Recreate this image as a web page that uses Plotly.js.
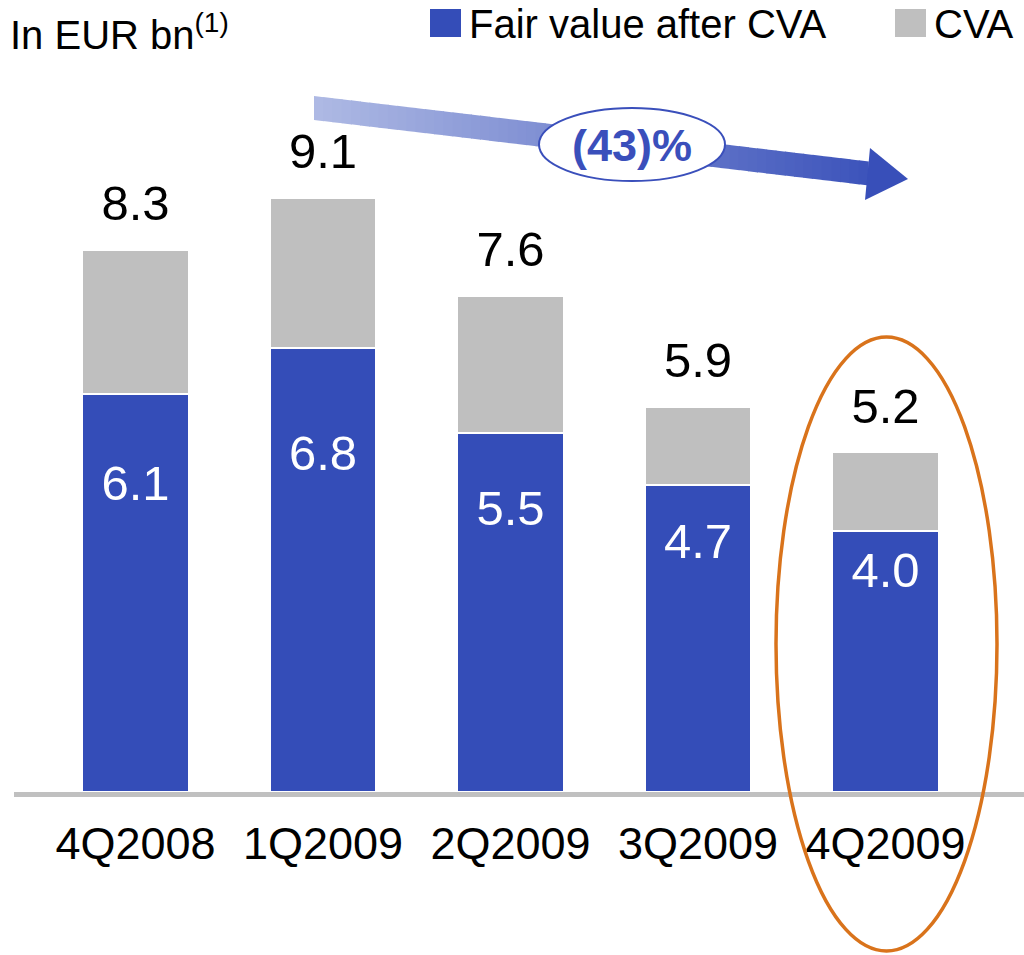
<!DOCTYPE html>
<html>
<head>
<meta charset="utf-8">
<script src="https://cdn.plot.ly/plotly-3.0.1.min.js"></script>
<style>html,body{margin:0;padding:0;background:#fff;}#chart{width:1024px;height:955px;}</style>
</head>
<body>
<div id="chart"></div>
<script>
// ---- data ----
const categories = ['4Q2008', '1Q2009', '2Q2009', '3Q2009', '4Q2009'];
const fairValueAfterCVA = [6.1, 6.8, 5.5, 4.7, 4.0];
const cvaValues = [2.2, 2.3, 2.1, 1.2, 1.2];
const totalValues = [8.3, 9.1, 7.6, 5.9, 5.2];
const changeLabel = '(43)%';
const unitLabel = 'In EUR bn<sup>(1)</sup>';
const seriesNames = ['Fair value after CVA', 'CVA'];

// ---- styling / layout helpers ----
const W = 1024, H = 955;
const M = {l: 14, r: 0, t: 139, b: 163};
const PW = W - M.l - M.r, PH = H - M.t - M.b;
const px = p => (p - M.l) / PW;          // pixel x -> paper x
const py = p => (H - M.b - p) / PH;      // pixel y -> paper y
const BLUE = '#344DB8', GREY = '#BFBFBF';
const FONT = 'Liberation Sans, Arial, sans-serif';

const traces = [
  {type: 'bar', x: categories, y: fairValueAfterCVA, name: seriesNames[0], width: 0.57,
   marker: {color: BLUE, line: {color: '#ffffff', width: 2}}, hoverinfo: 'none'},
  {type: 'bar', x: categories, y: cvaValues, name: seriesNames[1], width: 0.57,
   marker: {color: GREY, line: {color: '#ffffff', width: 2}}, hoverinfo: 'none'},
  {type: 'scatter', mode: 'text', x: categories, y: totalValues.map(v => v + 0.64),
   text: totalValues.map(v => v.toFixed(1)), textposition: 'middle center',
   textfont: {family: FONT, size: 49, color: '#000'}, hoverinfo: 'none', cliponaxis: false},
  {type: 'scatter', mode: 'text', x: categories, y: fairValueAfterCVA.map(v => 0.64 * v + 0.76),
   text: fairValueAfterCVA.map(v => v.toFixed(1)), textposition: 'middle center',
   textfont: {family: FONT, size: 49, color: '#fff'}, hoverinfo: 'none', cliponaxis: false}
];

// ---- arrow with gradient (sliced) ----
const shapes = [];
const ax0 = 314, axEnd = 868, tipX = 908;
const topY = x => 96 + 0.118 * (x - ax0);
const botY = x => 120 + 0.118 * (x - ax0);
const c0 = [175, 186, 228], c1 = [52, 76, 184];
const N = 60, step = (axEnd - ax0) / N;
const mix = t => 'rgb(' + c0.map((c, k) => Math.round(c + (c1[k] - c) * t)).join(',') + ')';
for (let i = 0; i < N; i++) {
  const xa = ax0 + i * step, xb = Math.min(xa + step + 0.8, axEnd + 2);
  const t = ((xa + xb) / 2 - ax0) / (tipX - ax0);
  shapes.push({type: 'path', xref: 'paper', yref: 'paper', layer: 'above',
    path: `M${px(xa)},${py(topY(xa))} L${px(xb)},${py(topY(xb))} L${px(xb)},${py(botY(xb))} L${px(xa)},${py(botY(xa))} Z`,
    fillcolor: mix(t), line: {width: 0}});
}
shapes.push({type: 'path', xref: 'paper', yref: 'paper', layer: 'above',
  path: `M${px(870)},${py(148)} L${px(tipX)},${py(179)} L${px(865)},${py(200)} Z`,
  fillcolor: mix(0.97), line: {width: 0}});
// ellipse around change label
shapes.push({type: 'circle', xref: 'paper', yref: 'paper', layer: 'above',
  x0: px(539), x1: px(725), y0: py(181), y1: py(108),
  fillcolor: '#ffffff', line: {color: '#3A4FBB', width: 2}});
// orange highlight ellipse
shapes.push({type: 'circle', xref: 'paper', yref: 'paper', layer: 'above',
  x0: px(776), x1: px(997), y0: py(951), y1: py(337),
  fillcolor: 'rgba(0,0,0,0)', line: {color: '#D9731B', width: 3.5}});
// legend swatches
shapes.push({type: 'rect', xref: 'paper', yref: 'paper', x0: px(430), x1: px(461), y0: py(37), y1: py(9),
  fillcolor: BLUE, line: {width: 0}});
shapes.push({type: 'rect', xref: 'paper', yref: 'paper', x0: px(895), x1: px(926), y0: py(37), y1: py(9),
  fillcolor: GREY, line: {width: 0}});

const annotations = [
  {xref: 'paper', yref: 'paper', x: px(8), y: py(32), xanchor: 'left', yanchor: 'middle', showarrow: false,
   text: unitLabel, font: {family: FONT, size: 40, color: '#000'}},
  {xref: 'paper', yref: 'paper', x: px(467), y: py(24), xanchor: 'left', yanchor: 'middle', showarrow: false,
   text: seriesNames[0], font: {family: FONT, size: 40, color: '#000'}},
  {xref: 'paper', yref: 'paper', x: px(932), y: py(24), xanchor: 'left', yanchor: 'middle', showarrow: false,
   text: seriesNames[1], font: {family: FONT, size: 40, color: '#000'}},
  {xref: 'paper', yref: 'paper', x: px(632), y: py(145), xanchor: 'center', yanchor: 'middle', showarrow: false,
   text: '<b>' + changeLabel + '</b>', font: {family: FONT, size: 45, color: '#3A4FBB'}}
];

const layout = {
  width: W, height: H,
  margin: M,
  paper_bgcolor: '#ffffff', plot_bgcolor: '#ffffff',
  barmode: 'stack',
  showlegend: false,
  xaxis: {type: 'category', range: [-0.648, 4.739], showline: true, linecolor: '#C0C0C0', linewidth: 5,
          ticks: '', ticklabelstandoff: 8, showgrid: false, zeroline: false, fixedrange: true,
          tickfont: {family: FONT, size: 45, color: '#000'}},
  yaxis: {range: [0, 10], visible: false, showgrid: false, zeroline: false, fixedrange: true},
  shapes: shapes,
  annotations: annotations,
  font: {family: FONT}
};

Plotly.newPlot('chart', traces, layout, {staticPlot: true, displayModeBar: false});
</script>
</body>
</html>
